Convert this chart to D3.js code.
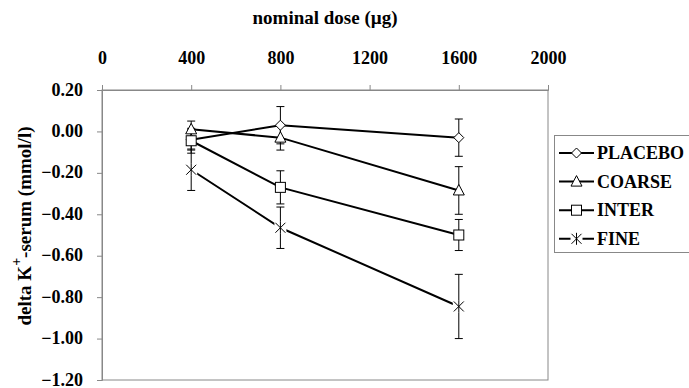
<!DOCTYPE html>
<html>
<head>
<meta charset="utf-8">
<script src="https://cdn.jsdelivr.net/npm/d3@7"></script>
<style>
  body { margin: 0; background: #fff; }
  svg text { font-family: "Liberation Serif", "Times New Roman", serif; font-weight: bold; fill: #000; }
</style>
</head>
<body>
<svg id="chart" width="689" height="388"></svg>
<script>
// data
var doses = [400, 800, 1600];
var seriesNames = ['PLACEBO', 'COARSE', 'INTER', 'FINE'];
var placebo = [-0.04, 0.03, -0.03];
var placeboErr = [0.05, 0.09, 0.09];
var coarse = [0.01, -0.03, -0.285];
var coarseErr = [0.04, 0.06, 0.115];
var inter = [-0.045, -0.27, -0.50];
var interErr = [0.06, 0.08, 0.075];
var fine = [-0.185, -0.465, -0.845];
var fineErr = [0.10, 0.10, 0.155];
var xTicks = [0, 400, 800, 1200, 1600, 2000];
var yTicks = [0.2, 0, -0.2, -0.4, -0.6, -0.8, -1.0, -1.2];

var series = [
  {name: seriesNames[0], values: placebo, err: placeboErr, marker: 'diamond'},
  {name: seriesNames[1], values: coarse, err: coarseErr, marker: 'triangle'},
  {name: seriesNames[2], values: inter, err: interErr, marker: 'square'},
  {name: seriesNames[3], values: fine, err: fineErr, marker: 'star'}
];

// plot area edges (note: "top" clashes with window.top)
var plotLeft = 102, plotRight = 548, plotTop = 90, plotBottom = 380;
var svg = d3.select('#chart');

var xScale = d3.scaleLinear().domain([0, 2000]).range([plotLeft, plotRight]);
var yScale = d3.scaleLinear().domain([-1.2, 0.2]).range([plotBottom, plotTop]);

// plot area border
svg.append('rect')
  .attr('x', plotLeft).attr('y', plotTop)
  .attr('width', plotRight - plotLeft).attr('height', plotBottom - plotTop)
  .attr('fill', 'none').attr('stroke', '#888').attr('stroke-width', 1);

// x axis on top
var xAxis = svg.append('g')
  .attr('transform', 'translate(0,' + plotTop + ')')
  .call(d3.axisTop(xScale).tickValues(xTicks).tickSize(5).tickPadding(21).tickFormat(d3.format('d')));
// y axis
var yAxis = svg.append('g')
  .attr('transform', 'translate(' + plotLeft + ',0)')
  .call(d3.axisLeft(yScale).tickValues(yTicks).tickSize(5).tickPadding(14).tickFormat(d3.format('.2f')));

[xAxis, yAxis].forEach(function (ax) {
  ax.select('.domain').attr('stroke', '#888');
  ax.selectAll('.tick line').attr('stroke', '#888');
  ax.selectAll('.tick text').attr('font-size', 18).attr('font-family', null);
});
yAxis.selectAll('.tick text').attr('dy', '0.28em');

// axis titles
svg.append('text')
  .attr('x', (plotLeft + plotRight) / 2).attr('y', 24)
  .attr('text-anchor', 'middle').attr('font-size', 19)
  .text('nominal dose (µg)');

var yt = svg.append('text')
  .attr('transform', 'translate(31,226) rotate(-90)')
  .attr('text-anchor', 'middle').attr('font-size', 19);
yt.append('tspan').text('delta K');
yt.append('tspan').attr('dy', -10).attr('font-size', 14).text('+');
yt.append('tspan').attr('dy', 10).text('-serum (mmol/l)');

// lines
var line = d3.line().x(function (d, i) { return xScale(doses[i]); }).y(function (d) { return yScale(d); });
series.forEach(function (s) {
  svg.append('path')
    .attr('d', line(s.values))
    .attr('fill', 'none').attr('stroke', '#000').attr('stroke-width', 2);
});

// error bars
series.forEach(function (s) {
  s.values.forEach(function (v, i) {
    var x = xScale(doses[i]);
    var g = svg.append('g').attr('stroke', '#000').attr('stroke-width', 1);
    g.append('line').attr('x1', x).attr('x2', x).attr('y1', yScale(v + s.err[i])).attr('y2', yScale(v - s.err[i]));
    g.append('line').attr('x1', x - 4).attr('x2', x + 4).attr('y1', yScale(v + s.err[i])).attr('y2', yScale(v + s.err[i]));
    g.append('line').attr('x1', x - 4).attr('x2', x + 4).attr('y1', yScale(v - s.err[i])).attr('y2', yScale(v - s.err[i]));
  });
});

function drawMarker(g, type, x, y) {
  var m = g.append('g').attr('transform', 'translate(' + x + ',' + y + ')');
  if (type === 'diamond') {
    m.append('path').attr('d', 'M0,-5L5,0L0,5L-5,0Z').attr('fill', '#fff').attr('stroke', '#000');
  } else if (type === 'triangle') {
    m.append('path').attr('d', 'M0,-6L5.5,4.5L-5.5,4.5Z').attr('fill', '#fff').attr('stroke', '#000');
  } else if (type === 'square') {
    m.append('rect').attr('x', -5).attr('y', -5).attr('width', 10).attr('height', 10).attr('fill', '#fff').attr('stroke', '#000');
  } else {
    m.append('rect').attr('x', -6).attr('y', -6).attr('width', 12).attr('height', 12).attr('fill', '#fff');
    m.append('path').attr('d', 'M-5,-5L5,5M-5,5L5,-5M0,-6L0,6').attr('stroke', '#000').attr('fill', 'none');
  }
}

// markers
series.forEach(function (s) {
  s.values.forEach(function (v, i) {
    drawMarker(svg, s.marker, xScale(doses[i]), yScale(v));
  });
});

// legend
var lg = svg.append('g');
lg.append('rect').attr('x', 554.5).attr('y', 135.5).attr('width', 150).attr('height', 117)
  .attr('fill', '#fff').attr('stroke', '#888');
series.forEach(function (s, i) {
  var y = 153 + i * 28.6;
  lg.append('line').attr('x1', 559).attr('x2', 594).attr('y1', y).attr('y2', y)
    .attr('stroke', '#000').attr('stroke-width', 2);
  drawMarker(lg, s.marker, 576.5, y);
  lg.append('text').attr('x', 597).attr('y', y + 6).attr('font-size', 18).text(s.name);
});
</script>
</body>
</html>
